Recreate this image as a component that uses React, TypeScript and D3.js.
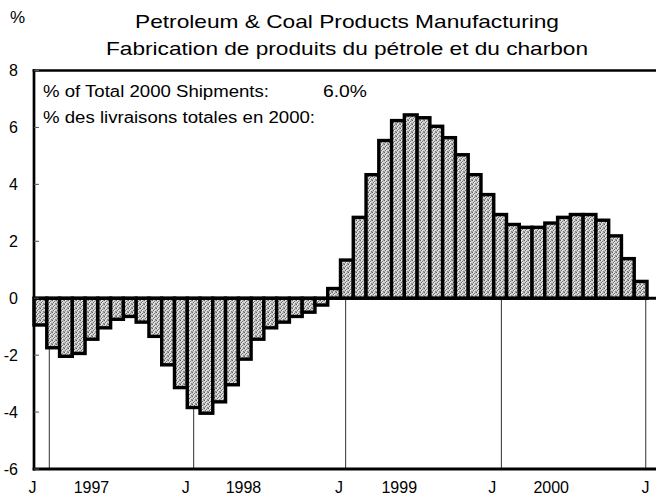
import React from "react";
import * as d3 from "d3";

// Monthly % change values, Jan 1997 – Dec 2000
const values1997 = [-1.0, -1.8, -2.1, -2.0, -1.5, -1.1, -0.8, -0.7, -0.9, -1.4, -2.4, -3.2];
const values1998 = [-3.9, -4.1, -3.7, -3.1, -2.2, -1.5, -1.1, -0.9, -0.7, -0.55, -0.3, 0.4];
const values1999 = [1.4, 2.9, 4.4, 5.6, 6.3, 6.5, 6.4, 6.1, 5.7, 5.1, 4.4, 3.7];
const values2000 = [3.0, 2.65, 2.55, 2.55, 2.7, 2.9, 3.0, 3.0, 2.8, 2.25, 1.45, 0.65];
const values = [...values1997, ...values1998, ...values1999, ...values2000];

const yTicks = [8, 6, 4, 2, 0, -2, -4, -6];
const janLabel = "J";
const janMonths = [0, 12, 24, 36, 48];
const yearLabels = ["1997", "1998", "1999", "2000"];
const yearMonths = [4.5, 16.4, 28.6, 40.5];
const gridMonths = [1.2, 12.5, 24.4, 36.6, 47.9];

const titleLines = [
  "Petroleum & Coal Products Manufacturing",
  "Fabrication de produits du pétrole et du charbon",
];
const legendLines = ["% of Total 2000 Shipments:", "% des livraisons totales en 2000:"];
const shareLabel = "6.0%";

const W = 656;
const H = 503;
const FONT = "'Liberation Sans', Arial, Helvetica, sans-serif";

export default function App() {
  const x = d3.scaleLinear().domain([0, 48]).range([34, 647]);
  const y = d3.scaleLinear().domain([-6, 8]).range([469, 70.5]);
  const y0 = y(0);
  const sw = 3.4;
  const left = 34;
  const right = 656;

  return (
    <svg
      width={W}
      height={H}
      viewBox={`0 0 ${W} ${H}`}
      style={{ position: "absolute", left: 0, top: 0, background: "#fff" }}
      fontFamily={FONT}
    >
      <defs>
        <pattern id="stip" width="4" height="4" patternUnits="userSpaceOnUse">
          <rect width="4" height="4" fill="#d0d0d0" />
          <rect x="0" y="0" width="1" height="1" fill="#5e5e5e" />
          <rect x="2" y="1" width="1" height="1" fill="#737373" />
          <rect x="1" y="2" width="1" height="1" fill="#6a6a6a" />
          <rect x="3" y="3" width="1" height="1" fill="#848484" />
          <rect x="3" y="0" width="1" height="1" fill="#9a9a9a" />
          <rect x="0" y="3" width="1" height="1" fill="#a0a0a0" />
          <rect x="2" y="2" width="1" height="1" fill="#f2f2f2" />
          <rect x="1" y="0" width="1" height="1" fill="#eeeeee" />
        </pattern>
      </defs>

      {/* title */}
      <text x={135} y={28} fontSize={18.5} textLength={424} lengthAdjust="spacingAndGlyphs">
        {titleLines[0]}
      </text>
      <text x={106} y={55} fontSize={18.5} textLength={482} lengthAdjust="spacingAndGlyphs">
        {titleLines[1]}
      </text>
      <text x={10} y={23} fontSize={17}>%</text>

      {/* vertical January lines below zero */}
      {gridMonths.map((m, i) => (
        <line key={"g" + i} x1={x(m)} x2={x(m)} y1={y0} y2={y(-6)} stroke="#444" strokeWidth={1.1} />
      ))}

      {/* bars */}
      {values.map((v, i) => {
        const x0 = x(i);
        const x1 = x(i + 1);
        const yv = y(v);
        let top: number, h: number;
        if (v >= 0) {
          top = yv + sw / 2;
          h = y0 - top;
        } else {
          top = y0;
          h = yv - sw / 2 - y0;
        }
        return (
          <rect
            key={"b" + i}
            x={x0}
            y={top}
            width={x1 - x0}
            height={Math.max(0, h)}
            fill="url(#stip)"
            stroke="#000"
            strokeWidth={sw}
          />
        );
      })}

      {/* zero line */}
      <line x1={left} x2={right} y1={y0} y2={y0} stroke="#000" strokeWidth={3} />

      {/* axes frame */}
      <line x1={left} x2={left} y1={y(8) - 1.3} y2={y(-6) + 1.5} stroke="#000" strokeWidth={2.7} />
      <line x1={left - 1.3} x2={right} y1={y(8)} y2={y(8)} stroke="#000" strokeWidth={2.7} />
      <line x1={left - 1.3} x2={right} y1={y(-6)} y2={y(-6)} stroke="#000" strokeWidth={3} />

      {/* y ticks and labels */}
      {yTicks.map((t) => (
        <g key={"y" + t}>
          <line x1={left} x2={left + 5} y1={y(t)} y2={y(t)} stroke="#555" strokeWidth={1} />
          <text x={18} y={y(t) + 5.8} fontSize={16} textAnchor="end">
            {t}
          </text>
        </g>
      ))}

      {/* x labels */}
      {janMonths.map((m, i) => (
        <text key={"j" + i} x={x(m) - 1.5} y={493} fontSize={16} textAnchor="middle">
          {janLabel}
        </text>
      ))}
      {yearLabels.map((l, i) => (
        <text key={"yr" + i} x={x(yearMonths[i])} y={493} fontSize={16} textAnchor="middle">
          {l}
        </text>
      ))}

      {/* legend */}
      <text x={43} y={97} fontSize={16} textLength={226} lengthAdjust="spacingAndGlyphs">
        {legendLines[0]}
      </text>
      <text x={323} y={97} fontSize={16} textLength={44} lengthAdjust="spacingAndGlyphs">
        {shareLabel}
      </text>
      <text x={43} y={123} fontSize={16} textLength={272} lengthAdjust="spacingAndGlyphs">
        {legendLines[1]}
      </text>
    </svg>
  );
}
